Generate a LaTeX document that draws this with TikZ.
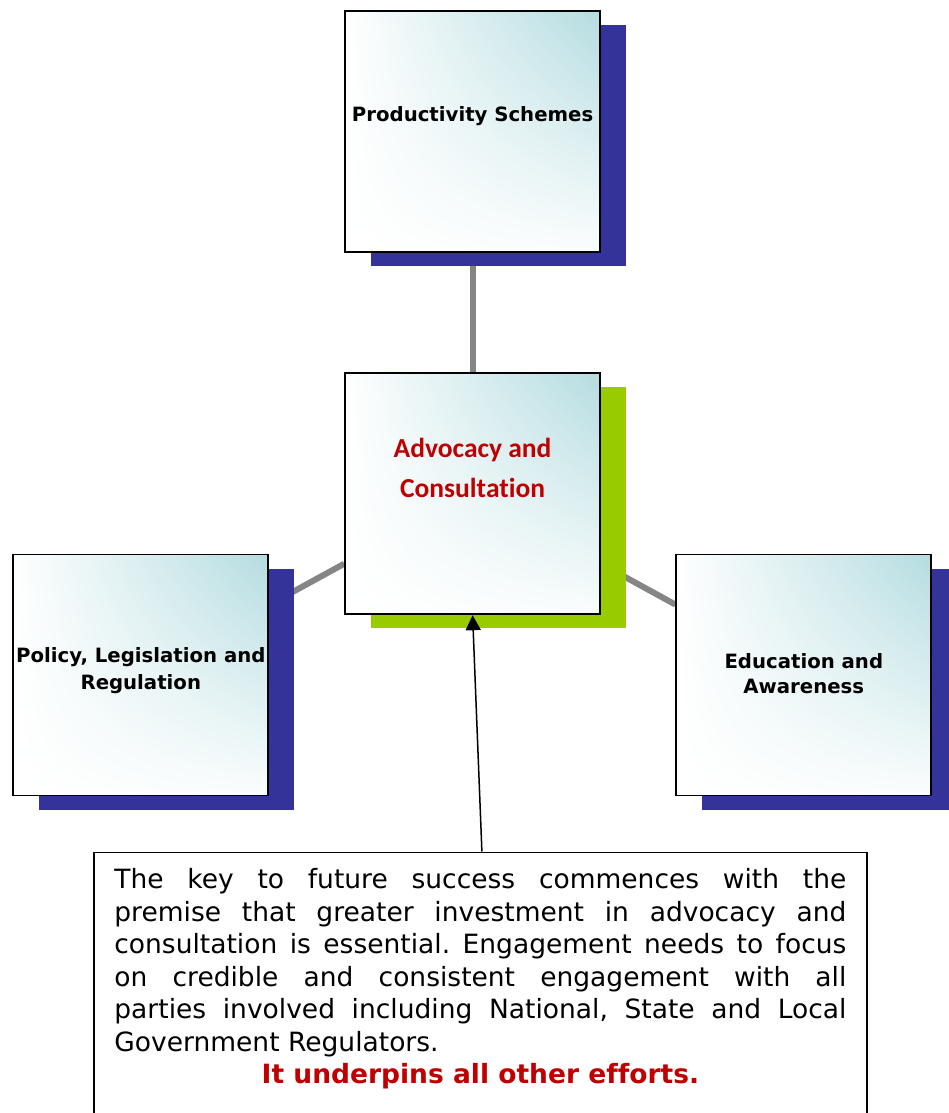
\documentclass[tikz,border=0pt]{standalone}
\usepackage{fontspec}
\setmainfont[Ligatures=NoCommon]{DejaVu Sans}
\newfontfamily\calib[Ligatures=NoCommon]{Carlito}
\usetikzlibrary{shadows,shadings,backgrounds,arrows.meta}
\definecolor{navyc}{HTML}{333399}
\definecolor{greenc}{HTML}{99CC00}
\definecolor{tealc}{HTML}{B4DCE0}
\definecolor{redc}{HTML}{C00000}
\definecolor{connc}{HTML}{858585}
\frenchspacing
\tikzset{
  card/.style={draw=black, line width=1.8pt, minimum width=255pt, minimum height=241pt,
    inner sep=0pt, shade, upper left=white, upper right=tealc,
    lower left=white, lower right=white!94!tealc},
  navyshadow/.style={general shadow={fill=navyc, shadow xshift=26pt, shadow yshift=-14pt}},
  greenshadow/.style={general shadow={fill=greenc, shadow xshift=26pt, shadow yshift=-14pt}},
  lbl/.style={inner sep=0pt, align=center, font=\fontsize{19.7}{27}\selectfont\bfseries},
  redlbl/.style={inner sep=0pt, align=center, text=redc, font=\calib\fontsize{27.5}{40}\selectfont\bfseries},
  conn/.style={draw=connc, line width=6pt},
  pointer/.style={draw=black, line width=1.5pt, -{Triangle[width=15pt,length=15pt]}},
  textbox/.style={draw=black, line width=1.8pt, fill=white, inner xsep=20.5pt, inner ysep=0pt,
    text width=732pt, align=justify, font=\fontsize{26.5}{32.5}\selectfont\frenchspacing}
}
\begin{document}
\begin{tikzpicture}[x=1pt,y=-1pt]
\useasboundingbox (0,0) rectangle (949,1113);

% boxes
\node[card, navyshadow] (ps) at (472.6,131.2) {};
\node[card, greenshadow] (ac) at (472.6,493.8) {};
\node[card, navyshadow] (lp) at (140.8,675) {};
\node[card, navyshadow] (ea) at (803.8,675) {};

% labels
\node[lbl, anchor=base] (psl) at (472.6,122) {Productivity Schemes};
\node[redlbl, anchor=north] (acl) at (472.6,427) {\rule{0pt}{30pt}Advocacy and\\ Consultation};
\node[lbl, anchor=north] (lpl) at (140.8,632) {\rule{0pt}{30pt}Policy, Legislation and\\ Regulation};
\node[lbl, anchor=north, font=\fontsize{19.7}{25.5}\selectfont\bfseries] (eal) at (803.8,638) {\rule{0pt}{30pt}Education and\\ Awareness};

% text box
\node[textbox, anchor=north west] (tb) at (93,851.5) {%
\rule{0pt}{36.5pt}\makebox[732pt][s]{The key to future success commences with the}\\
\makebox[732pt][s]{premise that greater investment in advocacy and}\\
\makebox[732pt][s]{consultation is essential. Engagement needs to focus}\\
\makebox[732pt][s]{on credible and consistent engagement with all}\\
\makebox[732pt][s]{parties involved including National, State and Local}\\
Government Regulators.\\
\makebox[732pt][c]{\bfseries\color{redc}It underpins all other efforts.}\rule[-60pt]{0pt}{0pt}};

% connectors
\begin{pgfonlayer}{background}
\draw[conn] (ps) -- (ac);
\draw[conn] (lp) -- (ac);
\draw[conn] (ea) -- (ac);
\end{pgfonlayer}
\draw[pointer] ([xshift=1.5pt]tb.north) -- (ac.south);
\end{tikzpicture}
\end{document}
